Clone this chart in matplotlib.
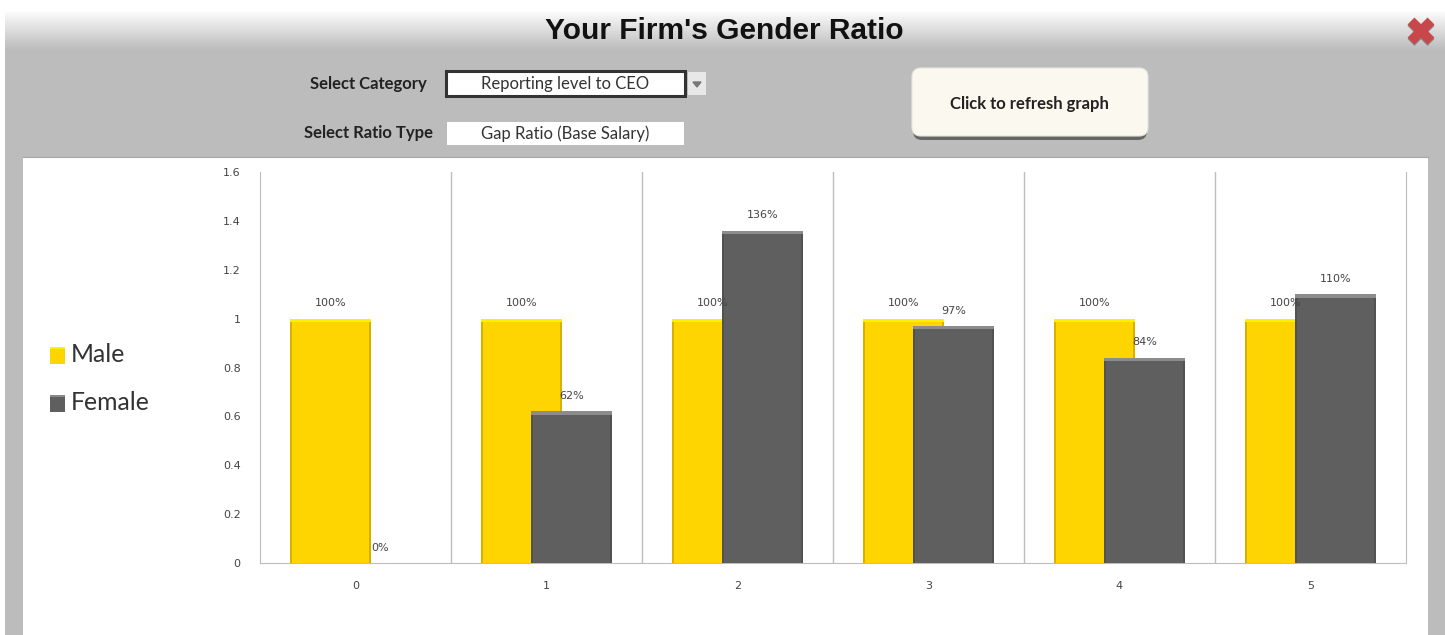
import numpy as np
import matplotlib
matplotlib.use("Agg")
import matplotlib.pyplot as plt
from matplotlib.patches import Rectangle, FancyBboxPatch

categories = ["0", "1", "2", "3", "4", "5"]
male = [1.00, 1.00, 1.00, 1.00, 1.00, 1.00]
female = [0.00, 0.62, 1.36, 0.97, 0.84, 1.10]
male_labels = ["100%"] * 6
female_labels = ["0%", "62%", "136%", "97%", "84%", "110%"]
y_ticks = [0, 0.2, 0.4, 0.6, 0.8, 1, 1.2, 1.4, 1.6]
y_tick_labels = ["0", "0.2", "0.4", "0.6", "0.8", "1", "1.2", "1.4", "1.6"]

W, H = 1445, 635
fig = plt.figure(figsize=(W / 100, H / 100), dpi=100, facecolor="white")

ui = fig.add_axes([0, 0, 1, 1], zorder=0)
ui.set_xlim(0, W)
ui.set_ylim(H, 0)
ui.axis("off")

ui.add_patch(Rectangle((5, 12), W - 5, H - 12, fc="#bcbcbc", ec="none"))
grad = np.linspace(0.98, 0.737, 40).reshape(-1, 1)
ui.imshow(grad, extent=(5, W, 50, 12), cmap="gray", vmin=0, vmax=1, aspect="auto", zorder=1)
ui.set_xlim(0, W)
ui.set_ylim(H, 0)
ui.add_patch(Rectangle((23, 157), 1405, H - 157, fc="white", ec="none", zorder=1))
ui.plot([23, 1428], [157, 157], color="#a8a8a8", lw=0.8, zorder=1)

ui.text(724, 31, "Your Firm's Gender Ratio", family="Liberation Sans", weight="bold",
        fontsize=21.5, ha="center", va="center", color="#111111", zorder=3)

# close icon
for a, b in [((1411, 21), (1431, 41)), ((1431, 21), (1411, 41))]:
    ui.plot([a[0], b[0]], [a[1] + 1.5, b[1] + 1.5], color="#8a8a8a", lw=7, solid_capstyle="butt", zorder=2)
    ui.plot([a[0], b[0]], [a[1], b[1]], color="#c8474a", lw=7, solid_capstyle="butt", zorder=3)

ui.text(368, 84, "Select Category", family="Lato", weight="bold", fontsize=12,
        ha="center", va="center", color="#222222", zorder=3)
ui.text(368, 133, "Select Ratio Type", family="Lato", weight="bold", fontsize=12,
        ha="center", va="center", color="#222222", zorder=3)

ui.add_patch(Rectangle((446, 71), 239, 25, fc="white", ec="#333333", lw=2.2, zorder=2))
ui.text(565, 84, "Reporting level to CEO", family="Lato", fontsize=12,
        ha="center", va="center", color="#333333", zorder=3)
ui.add_patch(Rectangle((688, 72), 18, 23, fc="#e8e8e8", ec="none", zorder=2))
ui.fill([693, 701, 697], [82, 82, 87], color="#777777", zorder=3)
ui.add_patch(Rectangle((447, 122), 237, 23, fc="white", ec="none", zorder=2))
ui.text(565, 134, "Gap Ratio (Base Salary)", family="Lato", fontsize=12,
        ha="center", va="center", color="#333333", zorder=3)

ui.add_patch(FancyBboxPatch((913, 72), 234, 68, boxstyle="round,pad=0,rounding_size=9",
                            fc="#666666", ec="none", zorder=2))
ui.add_patch(FancyBboxPatch((912, 68), 236, 68, boxstyle="round,pad=0,rounding_size=9",
                            fc="#fbf9ef", ec="#e8e6da", lw=0.8, zorder=2))
ui.text(1029, 104, "Click to refresh graph", family="Lato", weight="bold", fontsize=12,
        ha="center", va="center", color="#222222", zorder=3)

# legend
for y, c, t, lab in [(355, "#ffd500", "#fff000", "Male"), (403, "#5f5f5f", "#8a8a8a", "Female")]:
    ui.add_patch(Rectangle((50, y - 8), 15, 17, fc=c, ec="none", zorder=2))
    ui.add_patch(Rectangle((50, y - 8), 15, 2, fc=t, ec="none", zorder=3))
    ui.text(71, y, lab, family="Lato", fontsize=17.8, ha="left", va="center",
            color="#333333", zorder=3)

# chart
ax = fig.add_axes([260 / W, 1 - 563 / H, (1406 - 260) / W, (563 - 172) / H], zorder=2)
ax.patch.set_alpha(0)
x = np.arange(len(categories))
bw, off = 0.426, 0.13
MC, MT, ME = "#ffd500", "#ffee00", "#d8b000"
FC, FT, FE = "#5f5f5f", "#8c8c8c", "#525252"

def bars(xpos, vals, c, top, edge, z):
    vals = np.array(vals)
    ax.bar(xpos, vals, bw, color=c, zorder=z)
    ax.bar(xpos - bw / 2 + 0.006, vals, 0.012, color=edge, zorder=z)
    ax.bar(xpos + bw / 2 - 0.006, vals, 0.012, color=edge, zorder=z)
    ax.bar(xpos, np.where(vals > 0, 0.014, 0), bw, bottom=vals - 0.014, color=top, zorder=z)

bars(x - off, male, MC, MT, ME, 3)
bars(x + off, female, FC, FT, FE, 4)

ax.set_xlim(-0.5, 5.5)
ax.set_ylim(0, 1.6)
ax.set_yticks(y_ticks, y_tick_labels)
ax.set_xticks(x, categories)
ax.tick_params(axis="x", length=0, labelsize=8, labelcolor="#444444", pad=13)
ax.tick_params(axis="y", length=0, labelsize=8, labelcolor="#444444", pad=14)
ax.spines["top"].set_visible(False)
for s in ["left", "bottom", "right"]:
    ax.spines[s].set_color("#bdbdbd")
for b in x[:-1] + 0.5:
    ax.axvline(b, color="#bdbdbd", lw=1, zorder=1)

for xi, v, l in zip(x - off, male, male_labels):
    ax.annotate(l, (xi, v), xytext=(0, 11), textcoords="offset points", ha="center",
                va="center", fontsize=8, color="#444444", zorder=6)
for xi, v, l in zip(x + off, female, female_labels):
    ax.annotate(l, (xi, v), xytext=(0, 11), textcoords="offset points", ha="center",
                va="center", fontsize=8, color="#444444", zorder=6)

fig.savefig("out.png", dpi=100)
